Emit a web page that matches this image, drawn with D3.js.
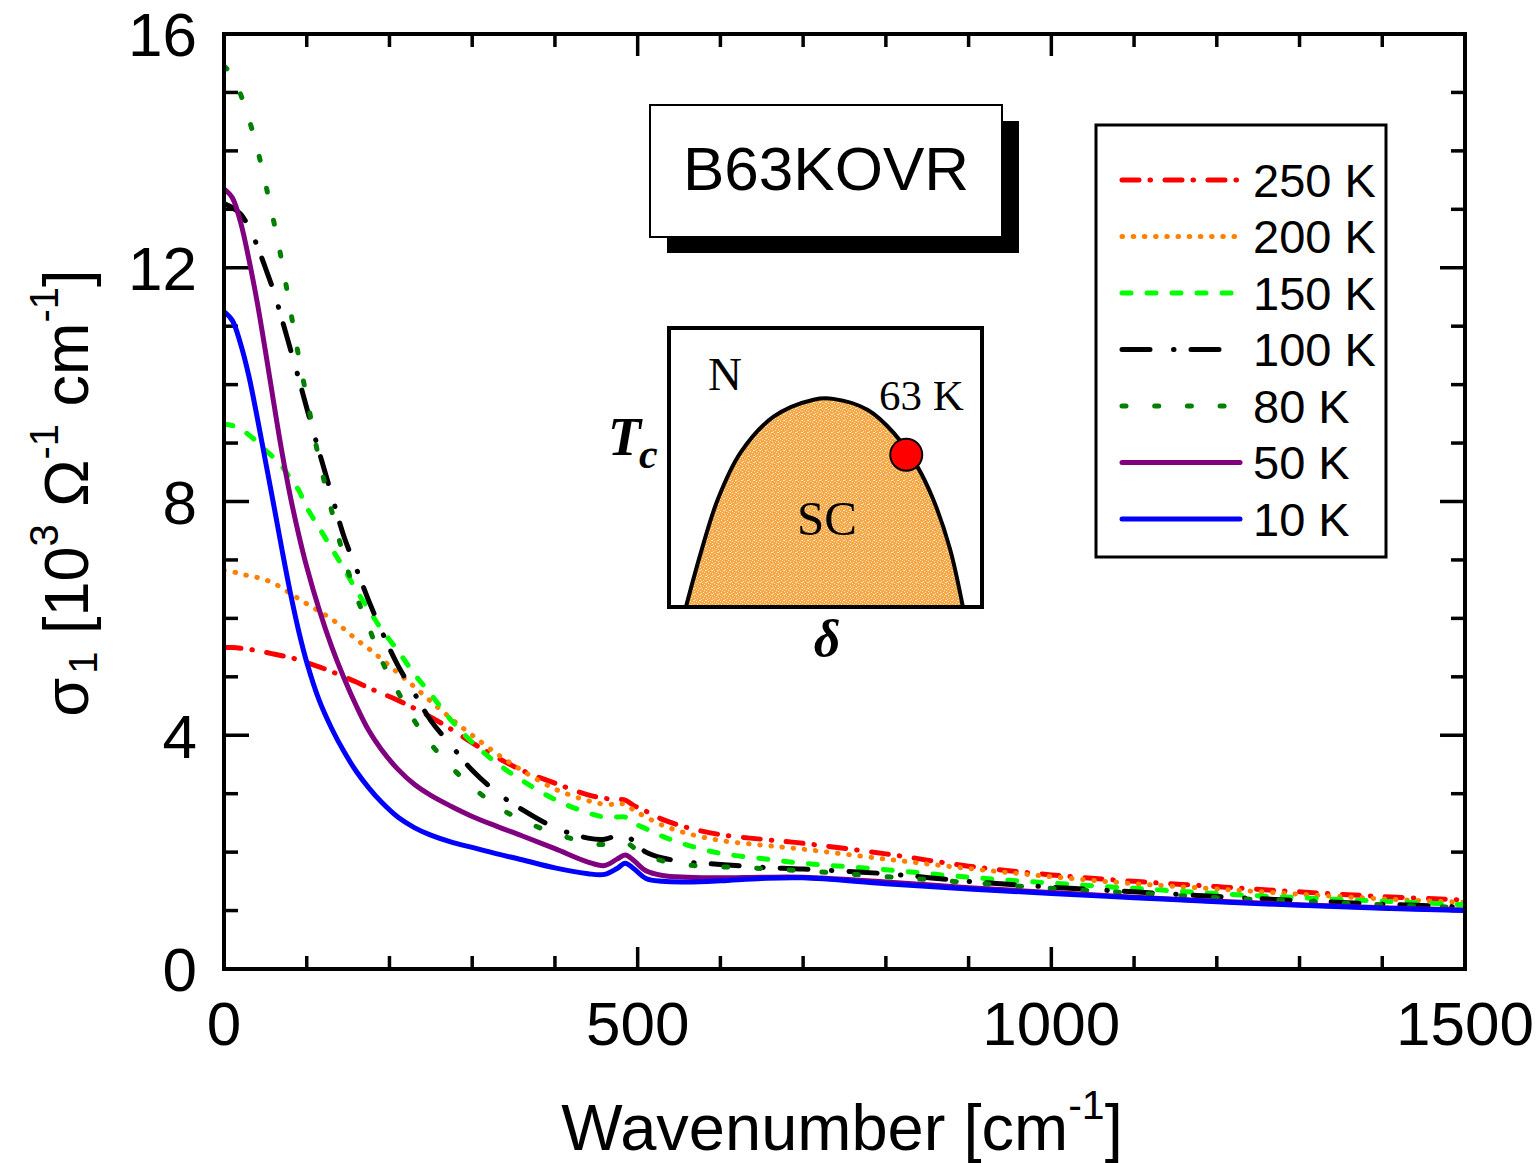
<!DOCTYPE html>
<html>
<head>
<meta charset="utf-8">
<script src="https://cdn.jsdelivr.net/npm/d3@7"></script>
<style>
  body { margin: 0; background: #fff; }
  text { font-family: "Liberation Sans", Arial, sans-serif; }
  .serif { font-family: "Liberation Serif", "Times New Roman", serif; }
</style>
</head>
<body>
<script>
// wavenumber grid shared by all spectra (cm^-1)
var wavenumber = [0, 10, 20, 30, 40, 50, 60, 70, 80, 90, 100, 115, 130, 145, 160, 175, 190, 210, 230, 250,
    275, 300, 330, 360, 400, 440, 460, 475, 485, 495, 510, 530, 560, 600, 650, 700, 800, 900, 1000, 1100,
    1200, 1300, 1400, 1500];

// sigma_1 in 10^3 Ohm^-1 cm^-1
var s250 = [5.5, 5.5, 5.49, 5.47, 5.45, 5.42, 5.39, 5.36, 5.33, 5.29, 5.24, 5.17, 5.09, 5.0, 4.91, 4.81, 4.72, 4.6, 4.46, 4.31,
    4.1, 3.87, 3.62, 3.4, 3.18, 2.98, 2.92, 2.9, 2.89, 2.8, 2.7, 2.56, 2.42, 2.3, 2.22, 2.15, 1.97, 1.76, 1.61, 1.5,
    1.41, 1.32, 1.24, 1.18];
var s200 = [6.82, 6.8, 6.76, 6.73, 6.7, 6.66, 6.6, 6.52, 6.43, 6.34, 6.25, 6.12, 5.99, 5.82, 5.64, 5.48, 5.31, 5.07, 4.83, 4.58,
    4.28, 4.0, 3.68, 3.4, 3.08, 2.88, 2.82, 2.82, 2.82, 2.72, 2.6, 2.46, 2.32, 2.2, 2.12, 2.05, 1.88, 1.72, 1.58, 1.46,
    1.37, 1.28, 1.2, 1.14];
var s150 = [9.32, 9.3, 9.24, 9.14, 9.02, 8.88, 8.75, 8.6, 8.4, 8.2, 7.9, 7.55, 7.2, 6.85, 6.48, 6.15, 5.82, 5.45, 5.05, 4.7,
    4.25, 3.88, 3.52, 3.23, 2.9, 2.67, 2.6, 2.6, 2.6, 2.5, 2.4, 2.27, 2.12, 1.98, 1.89, 1.81, 1.7, 1.57, 1.47, 1.38,
    1.29, 1.22, 1.16, 1.1];
var s100 = [13.1, 13.03, 12.92, 12.7, 12.38, 12.0, 11.6, 11.12, 10.62, 10.12, 9.6, 8.85, 8.12, 7.4, 6.85, 6.3, 5.8, 5.2, 4.72, 4.25,
    3.82, 3.4, 3.02, 2.73, 2.42, 2.24, 2.22, 2.29, 2.32, 2.18, 2.0, 1.9, 1.83, 1.79, 1.74, 1.71, 1.63, 1.5, 1.4, 1.32,
    1.24, 1.17, 1.11, 1.06];
var s80 = [15.45, 15.3, 14.97, 14.55, 14.05, 13.45, 12.8, 12.1, 11.3, 10.5, 9.78, 8.72, 7.85, 7.05, 6.38, 5.85, 5.3, 4.75, 4.25, 3.85,
    3.45, 3.12, 2.78, 2.55, 2.32, 2.16, 2.13, 2.17, 2.18, 2.08, 1.95, 1.85, 1.78, 1.75, 1.72, 1.68, 1.58, 1.48, 1.38, 1.3,
    1.22, 1.16, 1.1, 1.05];
var s50 = [13.35, 13.2, 12.78, 12.15, 11.42, 10.58, 9.7, 8.85, 8.1, 7.45, 6.88, 6.15, 5.52, 4.98, 4.5, 4.08, 3.76, 3.42, 3.16, 2.97,
    2.78, 2.61, 2.44, 2.28, 2.06, 1.83, 1.77, 1.88, 1.95, 1.86, 1.68, 1.6, 1.57, 1.56, 1.57, 1.57, 1.49, 1.39, 1.31, 1.23,
    1.16, 1.1, 1.05, 1.01];
var s10 = [11.25, 11.1, 10.7, 10.15, 9.45, 8.7, 7.95, 7.18, 6.45, 5.8, 5.25, 4.6, 4.12, 3.72, 3.38, 3.1, 2.86, 2.6, 2.42, 2.29,
    2.17, 2.08, 1.97, 1.87, 1.73, 1.63, 1.62, 1.72, 1.81, 1.72, 1.55, 1.5, 1.49, 1.51, 1.55, 1.56, 1.46, 1.37, 1.29, 1.22,
    1.15, 1.09, 1.04, 1.0];

var labels = ["250 K", "200 K", "150 K", "100 K", "80 K", "50 K", "10 K"];
var colors = ["#ff0000", "#ff8000", "#00ff00", "#000000", "#008000", "#800080", "#0000ff"];
var dashes = ["17 11 0.5 14.5", "0.5 10.7", "9 16", "28 23.5 0.5 17", "4 28.7", null, null];
var spectra = [s250, s200, s150, s100, s80, s50, s10];

var xTicks = [0, 500, 1000, 1500];
var yTicks = [0, 4, 8, 12, 16];

// inset phase diagram (normalised doping / Tc)
var domeDelta = [0.054, 0.102, 0.156, 0.229, 0.334, 0.462, 0.525, 0.634, 0.717, 0.793, 0.844, 0.898, 0.939];
var domeTc = [0.0, 0.196, 0.386, 0.554, 0.682, 0.743, 0.746, 0.707, 0.625, 0.504, 0.386, 0.207, 0.0];
var sample = {delta: 0.758, tc: 0.546, label: "63 K"};

var w = 1540, h = 1163;
var margin = {top: 34, right: 75, bottom: 194, left: 224};

var svg = d3.select("body").append("svg")
    .attr("width", w)
    .attr("height", h);

var x = d3.scaleLinear().domain([0, 1500]).range([margin.left, w - margin.right]);
var y = d3.scaleLinear().domain([0, 16]).range([h - margin.bottom, margin.top]);

var defs = svg.append("defs");
defs.append("clipPath").attr("id", "plotclip")
    .append("rect")
    .attr("x", x(0)).attr("y", y(16))
    .attr("width", x(1500) - x(0)).attr("height", y(0) - y(16));

// speckled orange for the SC dome
var pat = defs.append("pattern").attr("id", "speckle")
    .attr("patternUnits", "userSpaceOnUse")
    .attr("width", 6).attr("height", 6);
pat.append("rect").attr("width", 6).attr("height", 6).attr("fill", "#f5a845");
[[0, 1], [3, 0], [1, 4], [4, 3], [5, 5], [2, 2], [4, 0]].forEach(function (p) {
    pat.append("rect").attr("x", p[0]).attr("y", p[1]).attr("width", 1).attr("height", 1).attr("fill", "#fde6c6");
});

//// ticks, inward on all four sides ////
var tickG = svg.append("g").attr("stroke", "#000").attr("stroke-width", 3.5);
d3.range(0, 1501, 100).forEach(function (v) {
    var len = v % 500 == 0 ? 22 : 13;
    tickG.append("line").attr("x1", x(v)).attr("x2", x(v)).attr("y1", y(0)).attr("y2", y(0) - len);
    tickG.append("line").attr("x1", x(v)).attr("x2", x(v)).attr("y1", y(16)).attr("y2", y(16) + len);
});
d3.range(0, 17, 1).forEach(function (v) {
    var len = v % 4 == 0 ? 25 : 14;
    tickG.append("line").attr("y1", y(v)).attr("y2", y(v)).attr("x1", x(0)).attr("x2", x(0) + len);
    tickG.append("line").attr("y1", y(v)).attr("y2", y(v)).attr("x1", x(1500)).attr("x2", x(1500) - len);
});

// tick labels
svg.append("g").selectAll("text")
    .data(xTicks).join("text")
    .attr("x", d => x(d))
    .attr("y", 1045)
    .attr("text-anchor", "middle")
    .attr("font-size", 62)
    .text(d => d);

svg.append("g").selectAll("text")
    .data(yTicks).join("text")
    .attr("x", 197)
    .attr("y", d => y(d))
    .attr("dy", "0.36em")
    .attr("text-anchor", "end")
    .attr("font-size", 62)
    .text(d => d);

//// spectra ////
var line = d3.line()
    .x((d, i) => x(wavenumber[i]))
    .y(d => y(d))
    .curve(d3.curveCatmullRom.alpha(0.5));

svg.append("g").attr("clip-path", "url(#plotclip)")
    .selectAll("path")
    .data(spectra).join("path")
    .attr("d", d => line(d))
    .attr("fill", "none")
    .attr("stroke", (d, i) => colors[i])
    .attr("stroke-width", 5)
    .attr("stroke-linecap", "round")
    .attr("stroke-dasharray", (d, i) => dashes[i]);

// frame
svg.append("rect")
    .attr("x", x(0)).attr("y", y(16))
    .attr("width", x(1500) - x(0)).attr("height", y(0) - y(16))
    .attr("fill", "none").attr("stroke", "#000").attr("stroke-width", 4);

//// axis titles ////
var xt = svg.append("text")
    .attr("x", 842).attr("y", 1150)
    .attr("text-anchor", "middle")
    .attr("font-size", 65);
xt.append("tspan").text("Wavenumber [cm");
xt.append("tspan").attr("font-size", 41).attr("dy", -31).text("-1");
xt.append("tspan").attr("dy", 31).text("]");

var yt = svg.append("text")
    .attr("transform", "translate(88,493) rotate(-90)")
    .attr("text-anchor", "middle")
    .attr("font-size", 63);
yt.append("tspan").text("σ");
yt.append("tspan").attr("font-size", 40).attr("dy", 9).attr("dx", 4).text("1");
yt.append("tspan").attr("dy", -9).text(" [10");
yt.append("tspan").attr("font-size", 40).attr("dy", -30).text("3");
yt.append("tspan").attr("dy", 30).text(" Ω");
yt.append("tspan").attr("font-size", 40).attr("dy", -30).text("-1");
yt.append("tspan").attr("dy", 30).text(" cm");
yt.append("tspan").attr("font-size", 40).attr("dy", -30).text("-1");
yt.append("tspan").attr("dy", 30).text("]");

//// sample name box with drop shadow ////
svg.append("rect").attr("x", 667).attr("y", 121).attr("width", 352).attr("height", 132).attr("fill", "#000");
svg.append("rect").attr("x", 650).attr("y", 105).attr("width", 352).attr("height", 132)
    .attr("fill", "#fff").attr("stroke", "#000").attr("stroke-width", 2);
svg.append("text").attr("x", 826).attr("y", 190)
    .attr("text-anchor", "middle").attr("font-size", 62)
    .text("B63KOVR");

//// legend ////
var legend = svg.append("g");
legend.append("rect").attr("x", 1096).attr("y", 125).attr("width", 290).attr("height", 432)
    .attr("fill", "#fff").attr("stroke", "#000").attr("stroke-width", 3);
var rows = legend.selectAll("g.row")
    .data(labels).join("g").attr("class", "row")
    .attr("transform", (d, i) => "translate(0," + (180 + i * 56.5) + ")");
rows.append("line")
    .attr("x1", 1122).attr("x2", 1240)
    .attr("stroke", (d, i) => colors[i])
    .attr("stroke-width", 5)
    .attr("stroke-linecap", "round")
    .attr("stroke-dasharray", (d, i) => dashes[i]);
rows.append("text")
    .attr("x", 1253).attr("dy", "0.36em")
    .attr("font-size", 47)
    .text(d => d);

//// inset phase diagram ////
var ix = d3.scaleLinear().domain([0, 1]).range([669, 982]);
var iy = d3.scaleLinear().domain([0, 1]).range([607, 328]);
var inset = svg.append("g");
inset.append("rect").attr("x", ix(0)).attr("y", iy(1)).attr("width", ix(1) - ix(0)).attr("height", iy(0) - iy(1))
    .attr("fill", "#fff");
var dome = d3.line()
    .x((d, i) => ix(domeDelta[i]))
    .y(d => iy(d))
    .curve(d3.curveCatmullRom.alpha(0.5));
inset.append("path").attr("d", dome(domeTc) + "Z")
    .attr("fill", "url(#speckle)").attr("stroke", "none");
inset.append("path").attr("d", dome(domeTc))
    .attr("fill", "none").attr("stroke", "#000").attr("stroke-width", 4);
inset.append("rect").attr("x", ix(0)).attr("y", iy(1)).attr("width", ix(1) - ix(0)).attr("height", iy(0) - iy(1))
    .attr("fill", "none").attr("stroke", "#000").attr("stroke-width", 4);
inset.append("circle").attr("cx", ix(sample.delta)).attr("cy", iy(sample.tc)).attr("r", 16)
    .attr("fill", "#ff0000").attr("stroke", "#000").attr("stroke-width", 2);

inset.append("text").attr("class", "serif").attr("x", 708).attr("y", 390).attr("font-size", 47).text("N");
inset.append("text").attr("class", "serif").attr("x", 879).attr("y", 410).attr("font-size", 43).text(sample.label);
inset.append("text").attr("class", "serif").attr("x", 827).attr("y", 535).attr("text-anchor", "middle")
    .attr("font-size", 49).text("SC");
var tc = inset.append("text").attr("class", "serif").attr("x", 608).attr("y", 455)
    .attr("font-weight", "bold").attr("font-style", "italic").attr("font-size", 54);
tc.append("tspan").text("T");
tc.append("tspan").attr("font-size", 42).attr("dy", 13).attr("dx", -2).text("c");
inset.append("text").attr("class", "serif").attr("x", 827).attr("y", 656).attr("text-anchor", "middle")
    .attr("font-weight", "bold").attr("font-style", "italic").attr("font-size", 52).text("δ");
</script>
</body>
</html>
